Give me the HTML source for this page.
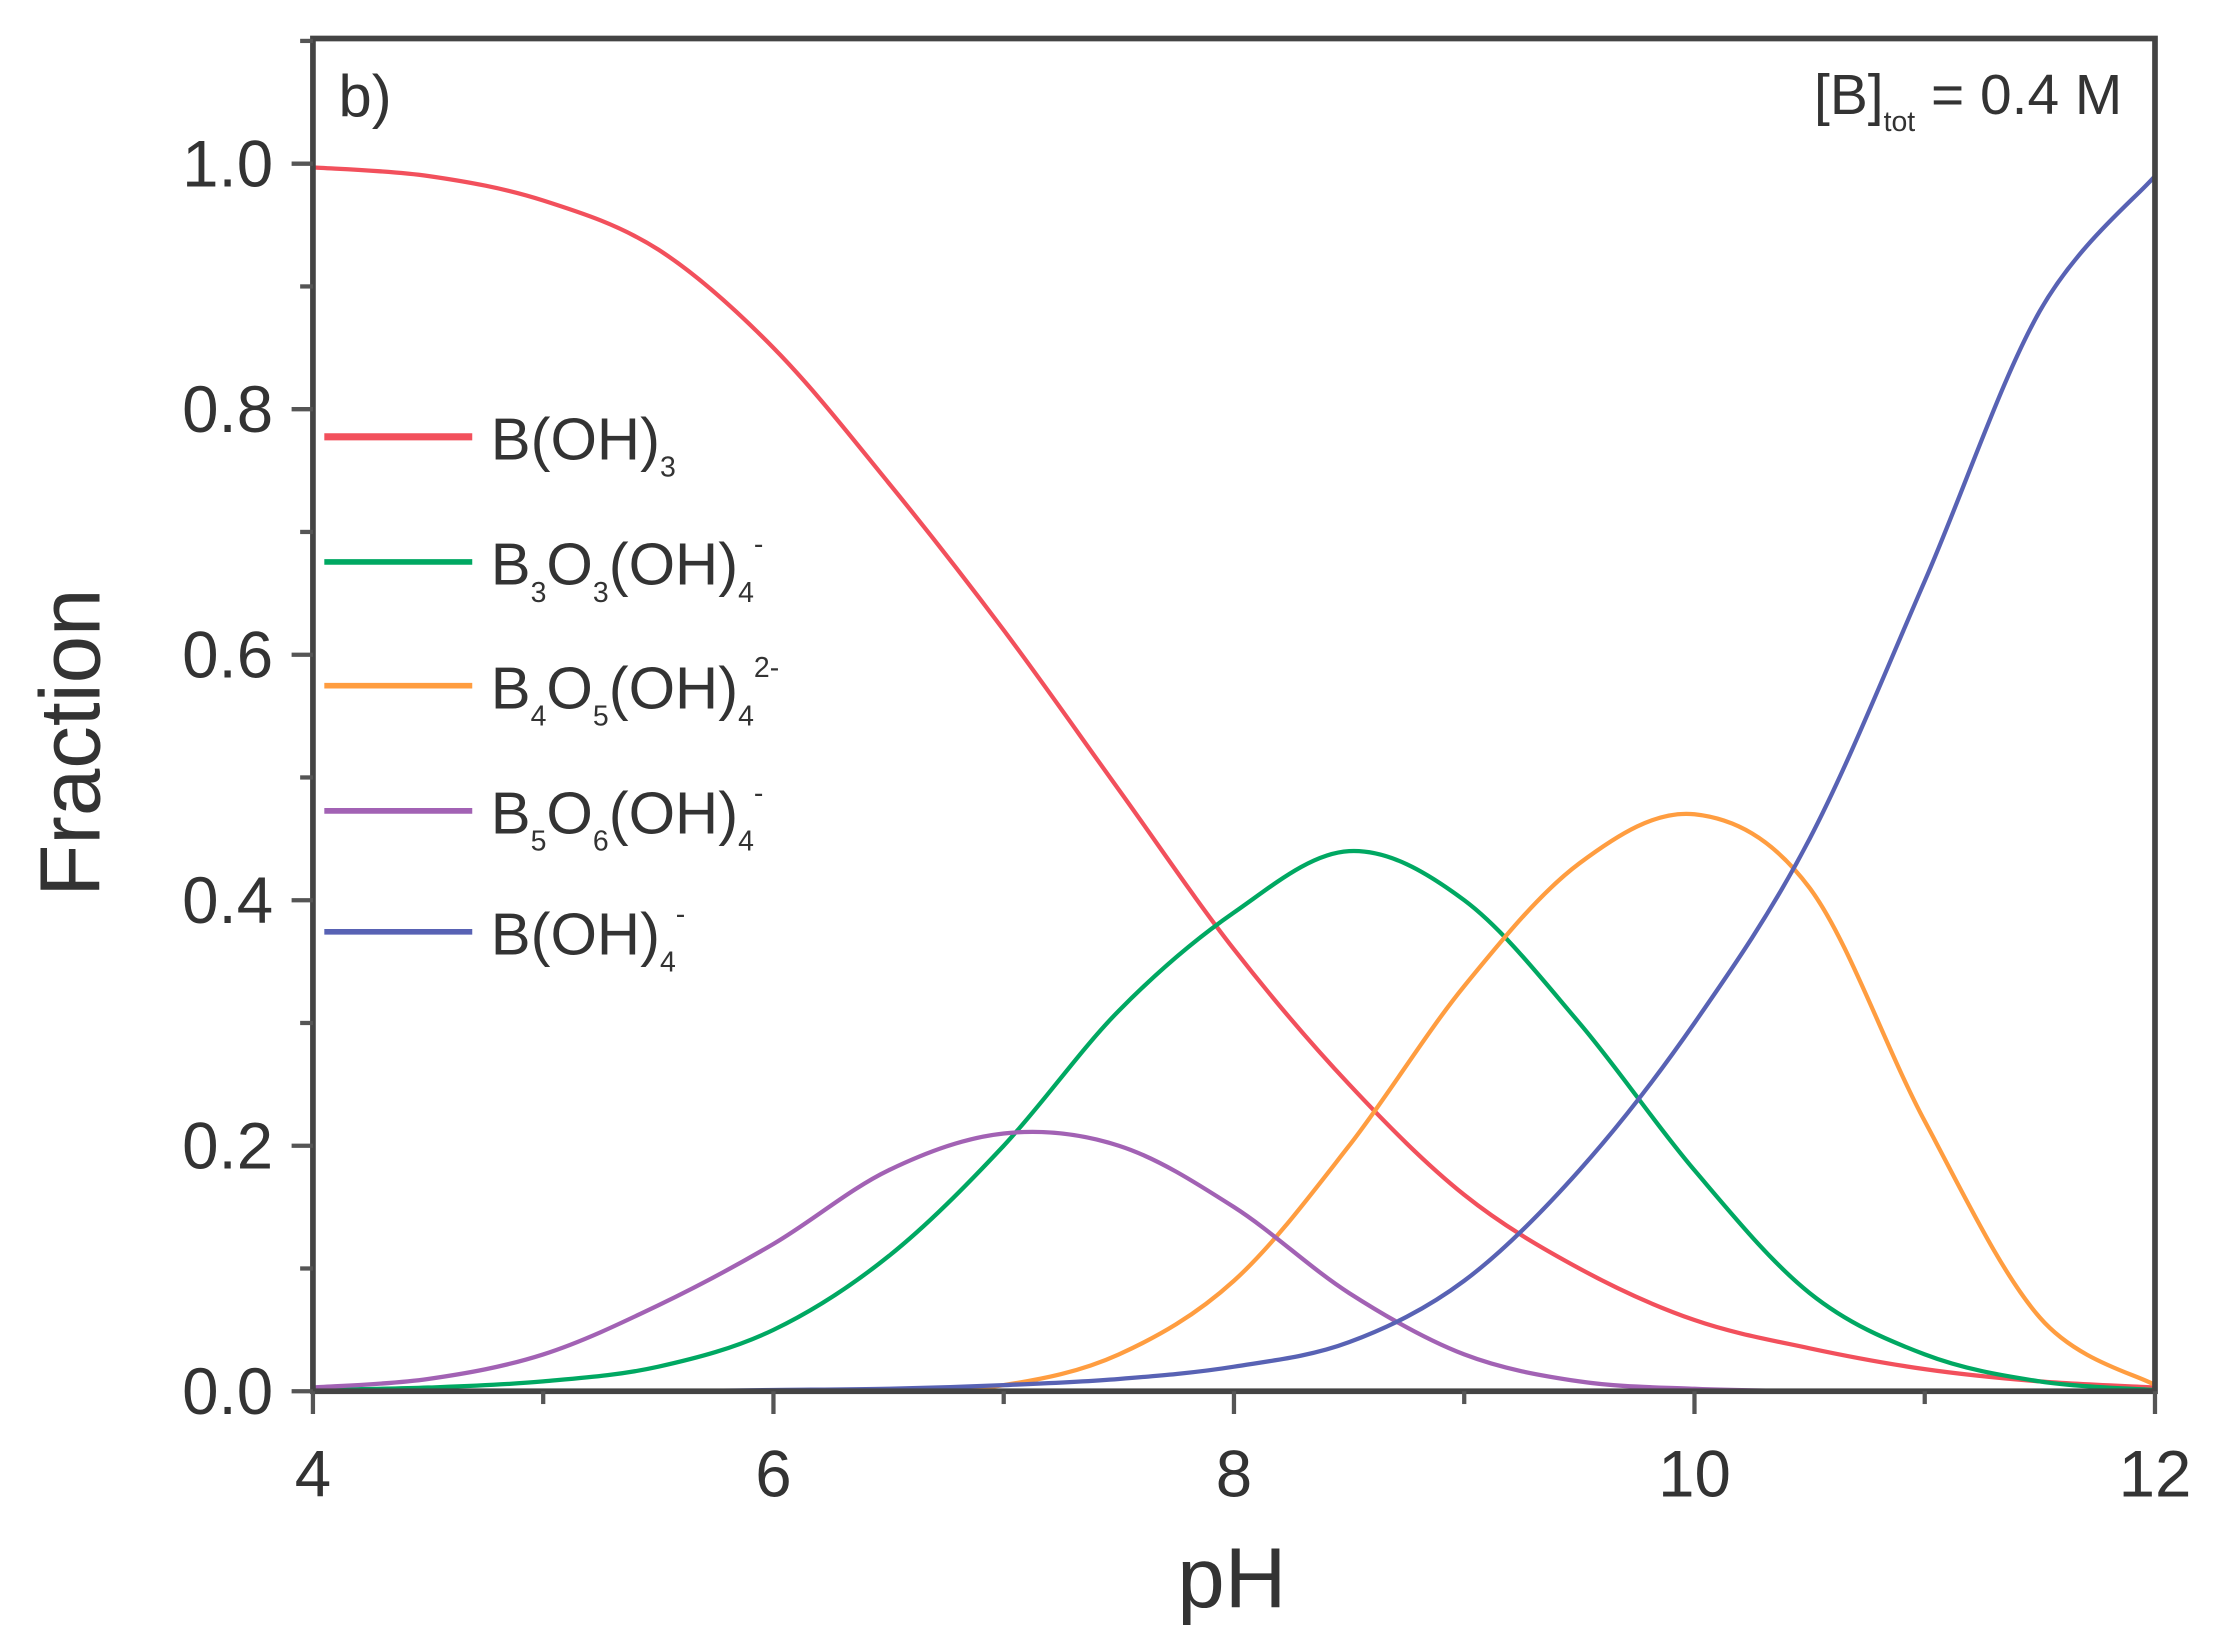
<!DOCTYPE html>
<html><head><meta charset="utf-8"><style>
body{margin:0;background:#fff}
svg{display:block;font-family:"Liberation Sans",sans-serif}
</style></head><body>
<svg id="chart" width="2219" height="1636" viewBox="0 0 1560 1150" xmlns="http://www.w3.org/2000/svg">
<g id="plot"></g>
</svg>
<script>
const pH = [4,4.5,5,5.5,6,6.5,7,7.5,8,8.5,9,9.5,10,10.5,11,11.5,12];
const bOH3 = [0.997,0.99,0.97,0.93,0.85,0.74,0.62,0.49,0.36,0.25,0.16,0.10,0.058,0.035,0.018,0.008,0.003];
const b3o3 = [0.001,0.003,0.008,0.02,0.05,0.11,0.2,0.31,0.39,0.44,0.40,0.30,0.18,0.08,0.03,0.008,0.001];
const b4o5 = [0,0,0,0,0,0.001,0.005,0.03,0.09,0.2,0.33,0.43,0.47,0.41,0.22,0.06,0.005];
const b5o6 = [0.003,0.01,0.03,0.07,0.12,0.18,0.21,0.2,0.15,0.08,0.03,0.008,0.002,0,0,0,0];
const bOH4 = [0,0,0,0,0.001,0.002,0.005,0.01,0.02,0.04,0.09,0.18,0.3,0.45,0.66,0.88,0.99];
const yTicks = [0,0.2,0.4,0.6,0.8,1.0];
const xTicks = [4,6,8,10,12];
const seriesNames = ['b-oh-3','b3o3-oh-4','b4o5-oh-4','b5o6-oh-4','b-oh-4'];
const colors = ['#f2505c','#00a862','#ff9d40','#a262b4','#5862b4'];
const L=220,R=1515,T=27,B=978;
const x = v => L + (v-4)/8*(R-L);
const y = v => B - v*863;
const NS='http://www.w3.org/2000/svg';
const g=document.getElementById('plot');
function mk(t,a,p){const e=document.createElementNS(NS,t);for(const k in a)e.setAttribute(k,a[k]);(p||g).appendChild(e);return e;}
[bOH3,b3o3,b4o5,b5o6,bOH4].forEach((s,i)=>{
  const P=pH.map((v,j)=>[x(v),y(s[j])]);
  let d='M'+P[0][0]+','+P[0][1];
  for(let j=0;j<P.length-1;j++){
    const p0=P[Math.max(0,j-1)],p1=P[j],p2=P[j+1],p3=P[Math.min(P.length-1,j+2)];
    d+=` C${p1[0]+(p2[0]-p0[0])/6},${p1[1]+(p2[1]-p0[1])/6} ${p2[0]-(p3[0]-p1[0])/6},${p2[1]-(p3[1]-p1[1])/6} ${p2[0]},${p2[1]}`;
  }
  const e=mk('path',{d:d,fill:'none',stroke:colors[i],'stroke-width':3});
  
  
});
const fr=mk('rect',{x:L,y:T,width:R-L,height:B-T,fill:'none',stroke:'#444','stroke-width':4});


for(let k=0;k<=11;k++){const v=k*0.1;const maj=k%2==0;
  mk('line',{x1:maj?205:211,x2:L,y1:y(v),y2:y(v),stroke:'#555','stroke-width':3});}
yTicks.forEach(v=>{const t=mk('text',{x:192,y:y(v)+16,'text-anchor':'end','font-size':46,fill:'#333'});t.textContent=v.toFixed(1);
  
  });
for(let v=4;v<=12;v+=1){const maj=v%2==0;mk('line',{x1:x(v),x2:x(v),y1:B,y2:maj?B+16:B+9,stroke:'#555','stroke-width':3});}
xTicks.forEach(v=>{const t=mk('text',{x:x(v),y:1052,'text-anchor':'middle','font-size':46,fill:'#333'});t.textContent=v;
  
  });
</script>
<div style="position:absolute;left:0;top:0;width:2219px;height:1636px;pointer-events:none">
<svg width="2219" height="1636" viewBox="0 0 1560 1150" xmlns="http://www.w3.org/2000/svg" style="font-family:'Liberation Sans',sans-serif">
<text transform="translate(70,522) rotate(-90)" text-anchor="middle" font-size="60" fill="#333">Fraction</text>
<text x="866" y="1130" text-anchor="middle" font-size="60" fill="#333">pH</text>
<text x="238" y="82" font-size="42" fill="#333">b)</text>
<text x="1492" y="80" text-anchor="end" font-size="40" fill="#333">[B]<tspan font-size="20" dy="12">tot</tspan><tspan dy="-12"> = 0.4 M</tspan></text>
<g font-size="42" fill="#333">
<line x1="228" x2="332" y1="307" y2="307" stroke="#f2505c" stroke-width="5"/>
<text x="345" y="323">B(OH)<tspan font-size="20" dy="12">3</tspan></text>
<line x1="228" x2="332" y1="395" y2="395" stroke="#00a862" stroke-width="4"/>
<text x="345" y="411">B<tspan font-size="20" dy="12">3</tspan><tspan dy="-12">O</tspan><tspan font-size="20" dy="12">3</tspan><tspan dy="-12">(OH)</tspan><tspan font-size="20" dy="12">4</tspan><tspan font-size="20" dy="-34">-</tspan></text>
<line x1="228" x2="332" y1="482" y2="482" stroke="#ff9d40" stroke-width="4"/>
<text x="345" y="498">B<tspan font-size="20" dy="12">4</tspan><tspan dy="-12">O</tspan><tspan font-size="20" dy="12">5</tspan><tspan dy="-12">(OH)</tspan><tspan font-size="20" dy="12">4</tspan><tspan font-size="20" dy="-34">2-</tspan></text>
<line x1="228" x2="332" y1="570" y2="570" stroke="#a262b4" stroke-width="4"/>
<text x="345" y="586">B<tspan font-size="20" dy="12">5</tspan><tspan dy="-12">O</tspan><tspan font-size="20" dy="12">6</tspan><tspan dy="-12">(OH)</tspan><tspan font-size="20" dy="12">4</tspan><tspan font-size="20" dy="-34">-</tspan></text>
<line x1="228" x2="332" y1="655" y2="655" stroke="#5862b4" stroke-width="4"/>
<text x="345" y="671">B(OH)<tspan font-size="20" dy="12">4</tspan><tspan font-size="20" dy="-34">-</tspan></text>
</g>
</svg></div>
</body></html>
